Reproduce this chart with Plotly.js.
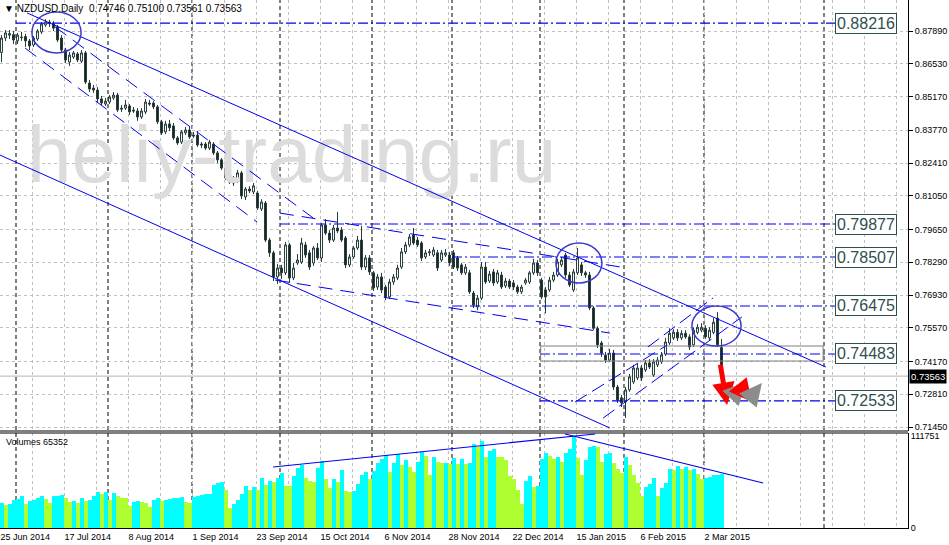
<!DOCTYPE html>
<html><head><meta charset="utf-8">
<script src="https://cdn.plot.ly/plotly-3.0.1.min.js"></script>
<style>html,body{margin:0;padding:0;background:#fff}#chart{width:949px;height:545px}</style>
</head><body><div id="chart"></div>
<script>
const dates = [
'2014-06-25','2014-06-26','2014-06-27','2014-06-30',
'2014-07-01','2014-07-02','2014-07-03','2014-07-04','2014-07-07','2014-07-08','2014-07-09','2014-07-10','2014-07-11',
'2014-07-14','2014-07-15','2014-07-16','2014-07-17','2014-07-18','2014-07-21','2014-07-22','2014-07-23','2014-07-24','2014-07-25',
'2014-07-28','2014-07-29','2014-07-30','2014-07-31',
'2014-08-01','2014-08-04','2014-08-05','2014-08-06','2014-08-07','2014-08-08','2014-08-11','2014-08-12','2014-08-13','2014-08-14','2014-08-15',
'2014-08-18','2014-08-19','2014-08-20','2014-08-21','2014-08-22','2014-08-25','2014-08-26','2014-08-27','2014-08-28','2014-08-29',
'2014-09-01','2014-09-02','2014-09-03','2014-09-04','2014-09-05','2014-09-08','2014-09-09','2014-09-10','2014-09-11','2014-09-12',
'2014-09-15','2014-09-16','2014-09-17','2014-09-18','2014-09-19','2014-09-22','2014-09-23','2014-09-24','2014-09-25','2014-09-26',
'2014-09-29','2014-09-30',
'2014-10-01','2014-10-02','2014-10-03','2014-10-06','2014-10-07','2014-10-08','2014-10-09','2014-10-10','2014-10-13','2014-10-14',
'2014-10-15','2014-10-16','2014-10-17','2014-10-20','2014-10-21','2014-10-22','2014-10-23','2014-10-24','2014-10-27','2014-10-28',
'2014-10-29','2014-10-30','2014-10-31',
'2014-11-03','2014-11-04','2014-11-05','2014-11-06','2014-11-07','2014-11-10','2014-11-11','2014-11-12','2014-11-13','2014-11-14',
'2014-11-17','2014-11-18','2014-11-19','2014-11-20','2014-11-21','2014-11-24','2014-11-25','2014-11-26','2014-11-27','2014-11-28',
'2014-12-01','2014-12-02','2014-12-03','2014-12-04','2014-12-05','2014-12-08','2014-12-09','2014-12-10','2014-12-11','2014-12-12',
'2014-12-15','2014-12-16','2014-12-17','2014-12-18','2014-12-19','2014-12-22','2014-12-23','2014-12-24','2014-12-26','2014-12-29',
'2014-12-30','2014-12-31',
'2015-01-02','2015-01-05','2015-01-06','2015-01-07','2015-01-08','2015-01-09','2015-01-12','2015-01-13','2015-01-14','2015-01-15',
'2015-01-16','2015-01-19','2015-01-20','2015-01-21','2015-01-22','2015-01-23','2015-01-26','2015-01-27','2015-01-28','2015-01-29',
'2015-01-30',
'2015-02-02','2015-02-03','2015-02-04','2015-02-05','2015-02-06','2015-02-09','2015-02-10','2015-02-11','2015-02-12','2015-02-13',
'2015-02-16','2015-02-17','2015-02-18','2015-02-19','2015-02-20','2015-02-23','2015-02-24','2015-02-25','2015-02-26','2015-02-27',
'2015-03-02','2015-03-03','2015-03-04','2015-03-05','2015-03-06'
];

const open = [
.8700,.8760,.8778,.8774,.8748,.8764,.8766,.8748,.8731,.8756,
.8785,.8814,.8826,.8818,.8806,.8760,.8710,.8660,.8681,.8694,
.8664,.8698,.8573,.8552,.8544,.8507,.8486,.8494,.8511,.8523,
.8469,.8469,.8478,.8461,.8457,.8432,.8453,.8490,.8490,.8474,
.8412,.8370,.8403,.8395,.8345,.8328,.8366,.8378,.8357,.8357,
.8320,.8320,.8303,.8320,.8283,.8254,.8220,.8162,.8179,.8166,
.8200,.8100,.8133,.8121,.8116,.8050,.8075,.7921,.7868,.7768,
.7805,.7785,.7901,.7764,.7826,.7830,.7901,.7868,.7826,.7888,
.7847,.7984,.7950,.7921,.7971,.7963,.7930,.7818,.7851,.7888,
.7921,.7809,.7847,.7785,.7726,.7768,.7726,.7685,.7747,.7764,
.7809,.7872,.7901,.7942,.7921,.7909,.7851,.7868,.7859,.7868,
.7838,.7859,.7859,.7868,.7847,.7818,.7785,.7785,.7701,.7643,
.7680,.7809,.7751,.7789,.7747,.7776,.7731,.7751,.7743,.7726,
.7706,.7743,.7747,.7785,.7826,.7755,.7714,.7714,.7755,.7776,
.7818,.7859,.7776,.7714,.7785,.7818,.7785,.7776,.7639,.7555,
.7494,.7444,.7423,.7452,.7311,.7266,.7249,.7299,.7332,.7349,
.7390,.7382,.7411,.7361,.7403,.7415,.7448,.7494,.7515,.7538,
.7515,.7534,.7519,.7486,.7538,.7547,.7555,.7515,.7538,.7597,
.74746
];
const high = [
.8772,.8793,.8793,.8789,.8781,.8785,.8777,.8756,.8768,.8797,
.8826,.8838,.8835,.8830,.8814,.8772,.8719,.8702,.8706,.8702,
.8710,.8706,.8586,.8565,.8556,.8519,.8511,.8523,.8536,.8532,
.8482,.8503,.8486,.8474,.8469,.8469,.8507,.8503,.8498,.8482,
.8420,.8416,.8420,.8407,.8353,.8378,.8391,.8391,.8370,.8374,
.8328,.8328,.8337,.8328,.8291,.8262,.8225,.8195,.8187,.8212,
.8208,.8141,.8145,.8158,.8125,.8091,.8083,.7930,.7876,.7822,
.7818,.7913,.7909,.7826,.7863,.7930,.7913,.7880,.7896,.7909,
.7992,.8008,.7963,.7984,.8038,.7975,.7938,.7863,.7896,.7938,
.7980,.7859,.7859,.7793,.7780,.7785,.7735,.7760,.7780,.7818,
.7888,.7913,.7946,.7971,.7934,.7917,.7880,.7884,.7892,.7880,
.7880,.7884,.7872,.7880,.7855,.7826,.7822,.7797,.7710,.7693,
.7830,.7830,.7793,.7801,.7797,.7789,.7764,.7760,.7755,.7735,
.7735,.7764,.7793,.7843,.7838,.7764,.7726,.7768,.7789,.7843,
.7851,.7868,.7789,.7801,.7888,.7830,.7793,.7789,.7647,.7563,
.7502,.7456,.7469,.7465,.7320,.7278,.7311,.7365,.7403,.7407,
.7403,.7423,.7427,.7427,.7436,.7456,.7515,.7555,.7551,.7551,
.7547,.7547,.7530,.7559,.7572,.7576,.7567,.7559,.7597,.7622,
.75100
];
const low = [
.8660,.8747,.8756,.8735,.8735,.8748,.8723,.8710,.8723,.8748,
.8777,.8806,.8806,.8789,.8743,.8702,.8656,.8644,.8673,.8660,
.8656,.8569,.8536,.8532,.8494,.8482,.8478,.8486,.8503,.8453,
.8453,.8461,.8440,.8449,.8416,.8424,.8444,.8478,.8465,.8403,
.8357,.8361,.8374,.8337,.8316,.8320,.8357,.8341,.8345,.8308,
.8303,.8295,.8295,.8274,.8241,.8212,.8170,.8154,.8146,.8158,
.8091,.8087,.8116,.8112,.8046,.8042,.7913,.7851,.7751,.7739,
.7760,.7776,.7743,.7755,.7818,.7822,.7847,.7797,.7814,.7838,
.7830,.7942,.7909,.7913,.7950,.7913,.7805,.7809,.7843,.7880,
.7797,.7797,.7776,.7710,.7714,.7701,.7672,.7676,.7735,.7755,
.7801,.7863,.7892,.7901,.7892,.7834,.7843,.7855,.7851,.7793,
.7830,.7851,.7814,.7801,.7793,.7776,.7776,.7697,.7639,.7630,
.7672,.7739,.7743,.7731,.7739,.7718,.7722,.7718,.7714,.7697,
.7697,.7735,.7739,.7776,.7772,.7676,.7617,.7706,.7747,.7768,
.7809,.7764,.7726,.7706,.7776,.7772,.7764,.7630,.7547,.7473,
.7436,.7411,.7415,.7299,.7245,.7228,.7183,.7291,.7324,.7340,
.7336,.7374,.7386,.7353,.7394,.7407,.7440,.7486,.7506,.7502,
.7506,.7511,.7465,.7477,.7530,.7538,.7511,.7506,.7530,.7477,
.73561
];
const close = [
.8760,.8781,.8772,.8752,.8772,.8762,.8748,.8727,.8760,.8789,
.8818,.8826,.8822,.8801,.8752,.8710,.8669,.8689,.8698,.8669,
.8698,.8577,.8548,.8544,.8507,.8490,.8498,.8515,.8523,.8461,
.8465,.8482,.8453,.8457,.8432,.8457,.8494,.8486,.8474,.8412,
.8366,.8403,.8387,.8345,.8324,.8370,.8378,.8349,.8353,.8316,
.8316,.8303,.8328,.8283,.8254,.8220,.8179,.8183,.8158,.8200,
.8104,.8133,.8125,.8146,.8054,.8079,.7921,.7868,.7768,.7805,
.7785,.7901,.7764,.7805,.7838,.7909,.7859,.7809,.7888,.7847,
.7984,.7950,.7921,.7971,.7959,.7921,.7818,.7851,.7888,.7921,
.7809,.7847,.7789,.7722,.7768,.7714,.7685,.7747,.7768,.7805,
.7872,.7901,.7934,.7909,.7901,.7847,.7868,.7872,.7880,.7805,
.7868,.7868,.7826,.7809,.7805,.7785,.7809,.7706,.7651,.7680,
.7809,.7747,.7780,.7743,.7785,.7726,.7751,.7726,.7726,.7706,
.7726,.7755,.7785,.7826,.7785,.7685,.7685,.7755,.7776,.7830,
.7838,.7776,.7735,.7789,.7847,.7785,.7776,.7639,.7555,.7486,
.7452,.7423,.7452,.7311,.7257,.7245,.7299,.7353,.7390,.7390,
.7349,.7411,.7394,.7415,.7423,.7444,.7498,.7534,.7538,.7515,
.7534,.7519,.7477,.7547,.7559,.7559,.7519,.7547,.7580,.7486,
.73563
];
const volume = [
29960,27940,29150,34010,35230,38870,29150,32800,33600,36040,
38870,35230,29960,38870,39270,40090,36850,31990,32800,29960,
36040,32800,34010,38870,44130,41300,44130,34010,42110,38870,
36850,36040,26720,31990,32800,31990,30770,25100,34010,36850,
32800,34010,34820,36040,36850,37250,31990,30770,37250,38870,
40090,41300,41700,52230,54260,55880,46160,23890,28750,34010,
41300,51020,46160,49400,46160,60330,51830,57090,55880,60330,
66400,51420,50610,63170,72480,76530,60330,57090,56280,72480,
81790,59120,48180,59120,56280,70450,45350,44130,44940,53450,
64380,68430,59120,69240,79360,83410,88670,68430,79360,89890,
76530,82600,74500,68430,80580,91910,87460,64380,86650,80580,
78550,79360,77340,84620,77740,83410,78150,79360,102040,97990,
106080,86650,93940,95560,86650,85840,82600,63170,59120,46160,
29150,57090,63170,50210,51020,83810,90700,87460,83410,85840,
80580,90700,95560,111751,84620,64380,82600,98800,99200,97990,
80580,89480,90700,78550,71260,66400,85840,76530,64380,55070,
38870,50210,53040,60330,38870,48180,54260,71260,70450,75310,
71260,73690,70450,71260,65590,59930,61140,62500,63900,64800,
65352
];

const priceTicks = [0.87890,0.86530,0.85170,0.83770,0.82410,0.81050,0.79650,0.78290,0.76930,0.75570,0.74170,0.72810,0.71450];
const priceTickText = ['0.87890','0.86530','0.85170','0.83770','0.82410','0.81050','0.79650','0.78290','0.76930','0.75570','0.74170','0.72810','0.71450'];
const levels = [0.88216, 0.79877, 0.78507, 0.76475, 0.74483, 0.72533];
const levelStarts = ['2014-07-01','2014-10-01','2014-12-01','2014-12-01','2015-01-02','2015-01-02'];
const volumeMax = 111751;
const symbolName = 'NZDUSD.Daily';
const watermark = 'heliy-trading.ru';
const MONTHS = ['Jan','Feb','Mar','Apr','May','Jun','Jul','Aug','Sep','Oct','Nov','Dec'];

// ---- layout constants ----
const X0 = -0.375, X1 = 226.625;           // 4 px per bar, 908 px plot width
const PRICE_RANGE = [0.71284, 0.89177];
const VOL_RANGE = [0, volumeMax * 95 / 92];
const PRICE_DOMAIN = [0.18371, 1];
const VOL_DOMAIN = [0, 0.1799];
const FUTURE_MONTH_BAR = 206;              // Apr 1 in the future area
const FONT = 'Liberation Sans, Arial, sans-serif';
const BLUE = '#0000EE';

const xs = dates.map((d, i) => i);
const last = dates.length - 1;
const fmtDate = d => { const p = d.split('-'); return (+p[2]) + ' ' + MONTHS[+p[1] - 1] + ' ' + p[0]; };
const idxOf = d => dates.indexOf(d);

// grid every 8 bars, date labels every 16 bars
const gridVals = [], gridText = [];
for (let k = 0; 8 * k <= X1; k++) {
  gridVals.push(8 * k + X0);
  gridText.push((k % 2 === 0 && 8 * k <= last) ? fmtDate(dates[8 * k]) : '');
}

const volColors = volume.map((v, i) => (i === 0 || v > volume[i - 1]) ? '#00FFFF' : '#ADFF2F');

const traces = [
  { type: 'scatter', mode: 'text', x: [6.4], y: [0.8245], text: [watermark], textposition: 'middle right',
    textfont: { family: FONT, size: 80, color: '#DCDCDC' }, hoverinfo: 'skip', xaxis: 'x', yaxis: 'y' },
  { type: 'candlestick', x: xs, open: open, high: high, low: low, close: close, xaxis: 'x', yaxis: 'y',
    whiskerwidth: 0,
    increasing: { line: { color: '#263C3C', width: 1 }, fillcolor: '#FFFFFF' },
    decreasing: { line: { color: '#263C3C', width: 1 }, fillcolor: '#1A2424' }, hoverinfo: 'skip' },
  { type: 'bar', x: xs, y: volume, xaxis: 'x', yaxis: 'y2', width: 1,
    marker: { color: volColors, line: { width: 0 } }, hoverinfo: 'skip' }
];

const shapes = [];
// month separators
const seps = [];
dates.forEach((d, i) => { if (i > 0 && d.slice(5, 7) !== dates[i - 1].slice(5, 7)) seps.push(i); });
seps.push(FUTURE_MONTH_BAR);
seps.forEach(i => shapes.push({ type: 'line', layer: 'between', xref: 'x', yref: 'paper', x0: i - 0.375, x1: i - 0.375, y0: 0, y1: 1,
  line: { color: '#000', width: 1, dash: '4px,3px' } }));
// current price line
shapes.push({ type: 'line', layer: 'between', xref: 'paper', yref: 'y', x0: 0, x1: 1, y0: close[last], y1: close[last],
  line: { color: '#B4B4B4', width: 1 } });
// pane frames
shapes.push({ type: 'line', xref: 'paper', yref: 'paper', x0: 0, x1: 1, y0: PRICE_DOMAIN[0], y1: PRICE_DOMAIN[0], line: { color: '#000', width: 1 } });
shapes.push({ type: 'line', xref: 'paper', yref: 'paper', x0: 0, x1: 1, y0: VOL_DOMAIN[1], y1: VOL_DOMAIN[1], line: { color: '#000', width: 1 } });
// level lines
const LEVEL_END = 208.4;
levels.forEach((lv, k) => shapes.push({ type: 'line', xref: 'x', yref: 'y', x0: idxOf(levelStarts[k]) - 0.375, x1: LEVEL_END, y0: lv, y1: lv,
  line: { color: BLUE, width: 1.1, dash: '10px,3px,2px,3px' } }));
// box around 0.74483 zone
shapes.push({ type: 'rect', xref: 'x', yref: 'y', x0: idxOf('2015-01-02') - 0.2, x1: 205.4, y0: 0.74190, y1: 0.74813,
  line: { color: '#808080', width: 1 }, fillcolor: 'rgba(0,0,0,0)' });
// trend lines
const trendLines = [
  [6.4, 0.8864, 206.1, 0.7394, 'solid'],
  [-0.4, 0.8274, 152.1, 0.7141, 'solid'],
  [13.4, 0.8806, 77.9, 0.8013, '14px,8px'],
  [5.9, 0.8718, 63.9, 0.7996, '14px,8px'],
  [69.6, 0.8033, 156.4, 0.7805, '14px,8px'],
  [68.4, 0.7755, 152.1, 0.7535, '14px,8px'],
  [143.4, 0.7249, 166.4, 0.7485, '14px,6px'],
  [161.6, 0.7477, 177.9, 0.7681, '14px,6px'],
  [150.4, 0.7182, 185.1, 0.7602, '14px,6px']
];
trendLines.forEach(t => shapes.push({ type: 'line', xref: 'x', yref: 'y', x0: t[0], y0: t[1], x1: t[2], y1: t[3],
  line: { color: BLUE, width: 1, dash: t[4] } }));
// volume trend lines
[[67.9, 74100, 148.4, 114180], [140.9, 114180, 190.4, 54660]].forEach(t => shapes.push({ type: 'line', xref: 'x', yref: 'y2',
  x0: t[0], y0: t[1], x1: t[2], y1: t[3], line: { color: BLUE, width: 1.2 } }));
// circles
[[7.6, 0.8868, 19.9, 0.8698], [138.6, 0.7909, 150.1, 0.7743], [172.6, 0.7647, 184.9, 0.7481]].forEach(c => shapes.push({
  type: 'circle', xref: 'x', yref: 'y', x0: c[0], y0: c[1], x1: c[2], y1: c[3], line: { color: '#3A3ACF', width: 1.5 } }));

const annotations = [];
annotations.push({ xref: 'paper', yref: 'paper', x: 0, y: 1, xanchor: 'left', yanchor: 'top', xshift: 2, yshift: -1, showarrow: false,
  text: '\u25BC ' + symbolName + '\u00A0\u00A0' + [open[last], high[last], low[last], close[last]].map(v => v.toFixed(5)).join(' '),
  font: { family: FONT, size: 10, color: '#000' } });
annotations.push({ xref: 'paper', yref: 'paper', x: 0, y: VOL_DOMAIN[1], xanchor: 'left', yanchor: 'top', xshift: 4, yshift: -2, showarrow: false,
  text: 'Volumes ' + volume[last], font: { family: FONT, size: 9, color: '#000' } });
annotations.push({ xref: 'paper', yref: 'y', x: 1, y: close[last], xanchor: 'left', xshift: 1, showarrow: false,
  text: close[last].toFixed(5), bgcolor: '#000', borderpad: 1, font: { family: FONT, size: 9.5, color: '#fff' } });
levels.forEach(lv => annotations.push({ xref: 'x', yref: 'y', x: LEVEL_END, y: lv, xanchor: 'left', showarrow: false,
  text: lv.toFixed(5), bgcolor: '#fff', bordercolor: '#2F4F4F', borderwidth: 1, borderpad: 1,
  font: { family: FONT, size: 16, color: '#2F4F4F' } }));
// forecast arrows
[[181.4, 0.7236, -7, -42, '#FF0000'], [186.1, 0.7332, -15, 16, '#8C8C8C'], [187.6, 0.7249, -12, -15, '#FF0000'], [190.1, 0.7328, -12, 15, '#8C8C8C']]
  .forEach(a => annotations.push({ xref: 'x', yref: 'y', x: a[0], y: a[1], ax: a[2], ay: a[3], text: '', showarrow: true,
    arrowhead: 2, arrowsize: 0.9, arrowwidth: 5, arrowcolor: a[4] }));

const layout = {
  width: 949, height: 545, margin: { l: 0, r: 41, t: 0, b: 17 },
  paper_bgcolor: '#fff', plot_bgcolor: '#fff', showlegend: false, bargap: 0, dragmode: false,
  font: { family: FONT, size: 9, color: '#000' },
  xaxis: { domain: [0, 1], anchor: 'y2', range: [X0, X1], tickmode: 'array', tickvals: gridVals, ticktext: gridText,
    ticklabelposition: 'outside right', ticks: '', showgrid: true, gridcolor: '#C0C0C0', griddash: '3px,3px', gridwidth: 1,
    showline: true, linecolor: '#000', linewidth: 1, zeroline: false, rangeslider: { visible: false },
    tickfont: { family: FONT, size: 9, color: '#000' } },
  yaxis: { domain: PRICE_DOMAIN, anchor: 'x', side: 'right', range: PRICE_RANGE, tickmode: 'array', tickvals: priceTicks, ticktext: priceTickText,
    showgrid: true, gridcolor: '#C0C0C0', griddash: '3px,3px', gridwidth: 1, zeroline: false,
    showline: true, linecolor: '#000', linewidth: 1, ticks: 'outside', ticklen: 4, tickcolor: '#000',
    tickfont: { family: FONT, size: 9, color: '#000' } },
  yaxis2: { domain: VOL_DOMAIN, anchor: 'x', side: 'right', range: VOL_RANGE, tickmode: 'array', tickvals: [0, volumeMax],
    ticktext: ['0', String(volumeMax)], showgrid: false, zeroline: false, showline: true, linecolor: '#000', linewidth: 1,
    ticks: '', tickfont: { family: FONT, size: 9, color: '#000' } },
  shapes: shapes, annotations: annotations
};

Plotly.newPlot('chart', traces, layout, { staticPlot: true, displayModeBar: false });
</script></body></html>
